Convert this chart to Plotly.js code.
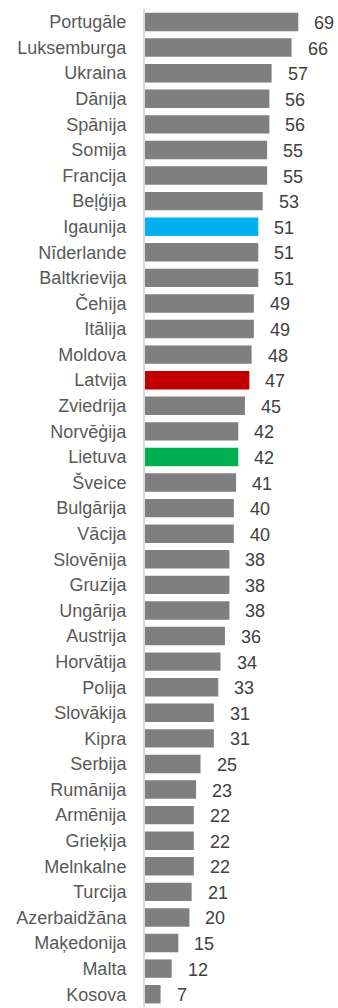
<!DOCTYPE html>
<html>
<head>
<meta charset="utf-8">
<script src="https://cdn.plot.ly/plotly-3.0.1.min.js"></script>
<style>html,body{margin:0;padding:0;background:#fff;}#chart{width:338px;height:1008px;}</style>
</head>
<body>
<div id="chart"></div>
<script>
const categories = ["Portugāle","Luksemburga","Ukraina","Dānija","Spānija","Somija","Francija","Beļģija","Igaunija","Nīderlande","Baltkrievija","Čehija","Itālija","Moldova","Latvija","Zviedrija","Norvēģija","Lietuva","Šveice","Bulgārija","Vācija","Slovēnija","Gruzija","Ungārija","Austrija","Horvātija","Polija","Slovākija","Kipra","Serbija","Rumānija","Armēnija","Grieķija","Melnkalne","Turcija","Azerbaidžāna","Maķedonija","Malta","Kosova"];
const values = [69,66,57,56,56,55,55,53,51,51,51,49,49,48,47,45,42,42,41,40,40,38,38,38,36,34,33,31,31,25,23,22,22,22,21,20,15,12,7];
const highlight = {"Igaunija":"#00B0F0","Latvija":"#C00000","Lietuva":"#00B050"};
const baseColor = "#7F7F7F";

const colors = categories.map(c => highlight[c] || baseColor);

const trace = {
  type: "bar",
  orientation: "h",
  y: categories,
  x: values,
  marker: {color: colors},
  width: 0.72,
  hoverinfo: "none"
};

const annotations = categories.map((c, i) => ({
  x: values[i], y: c, xref: "x", yref: "y",
  text: String(values[i]), showarrow: false,
  xanchor: "left", yanchor: "middle", xshift: 14, yshift: -1,
  font: {family: "Liberation Sans, Arial, sans-serif", size: 18, color: "#404040"}
}));

const layout = {
  width: 338, height: 1008,
  margin: {l: 145, r: 0, t: 9, b: 1},
  paper_bgcolor: "#fff", plot_bgcolor: "#fff",
  showlegend: false,
  xaxis: {range: [0, 86.9], visible: false, fixedrange: true},
  yaxis: {
    autorange: "reversed",
    showline: true, linecolor: "#D9D9D9", linewidth: 2,
    showgrid: false, zeroline: false,
    ticks: "", ticklabelstandoff: 13,
    tickfont: {family: "Liberation Sans, Arial, sans-serif", size: 18, color: "#595959"},
    fixedrange: true
  },
  annotations: annotations,
  font: {family: "Liberation Sans, Arial, sans-serif"}
};

Plotly.newPlot("chart", [trace], layout, {displayModeBar: false, staticPlot: true});
</script>
</body>
</html>
